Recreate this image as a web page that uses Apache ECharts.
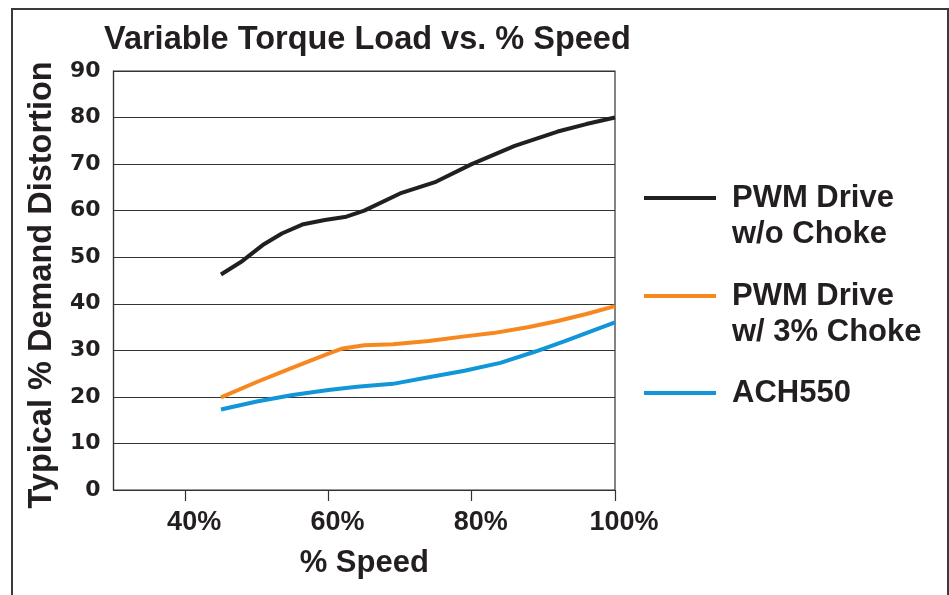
<!DOCTYPE html>
<html>
<head>
<meta charset="utf-8">
<script src="https://cdn.jsdelivr.net/npm/echarts@6/dist/echarts.min.js"></script>
<style>
html,body{margin:0;padding:0;background:#fff;}
#chart{width:949px;height:595px;}
</style>
</head>
<body>
<div id="chart"></div>
<script>
// ---- data ----
const seriesNames = ['PWM Drive\nw/o Choke', 'PWM Drive\nw/ 3% Choke', 'ACH550'];
const blackSpeed = [45, 48, 51, 53.5, 56.5, 59.5, 62.5, 65, 70, 75, 80, 86, 92, 96, 100];
const blackValues = [46.3, 49.2, 52.8, 55.1, 57.1, 58, 58.7, 60, 63.7, 66.2, 70, 73.9, 77, 78.6, 80];
const orangeSpeed = [45, 50, 55, 60, 62, 65, 69, 74, 79, 83, 88, 92, 96, 100];
const orangeValues = [19.9, 23.2, 26.3, 29.3, 30.4, 31.1, 31.3, 32, 33, 33.7, 35, 36.3, 37.8, 39.5];
const blueSpeed = [45, 50, 55, 60, 64, 69, 74, 79, 84, 89, 93, 97, 100];
const blueValues = [17.3, 19, 20.4, 21.5, 22.2, 22.8, 24.2, 25.6, 27.3, 29.8, 32, 34.3, 36];
const xTickValues = [40, 60, 80, 100];
const xTickLabels = ['40%', '60%', '80%', '100%'];

const pair = (xs, ys) => xs.map((x, i) => [x, ys[i]]);
const txt = '#231f20';
const bold = 'Liberation Sans, Arial, sans-serif';

const chart = echarts.init(document.getElementById('chart'), null, {renderer: 'canvas'});
const legendText = {
  fontFamily: bold, fontWeight: 'bold', fontSize: 31, lineHeight: 36, color: txt,
  padding: [0, 0, 0, 11],
  rich: {
    a: {fontFamily: bold, fontWeight: 'bold', fontSize: 31, lineHeight: 36, color: txt},
    s: {fontSize: 31, lineHeight: 36}
  }
};
const twoLine = name => '{s| }\n' + name.split('\n').map(l => '{a|' + l + '}').join('\n');
const legendBase = {
  orient: 'vertical', left: 644, padding: 0, icon: 'rect', itemWidth: 72, itemHeight: 4,
  selectedMode: false, textStyle: legendText
};
chart.setOption({
  animation: false,
  backgroundColor: '#fff',
  title: {
    text: 'Variable Torque Load vs. % Speed', left: 104, top: 24, padding: 0,
    textStyle: {fontFamily: bold, fontWeight: 'bold', fontSize: 32.5, color: txt}
  },
  legend: [
    Object.assign({}, legendBase, {top: 144, data: [seriesNames[0]], formatter: twoLine}),
    Object.assign({}, legendBase, {top: 242, data: [seriesNames[1]], formatter: twoLine}),
    Object.assign({}, legendBase, {top: 375, data: [seriesNames[2]]})
  ],
  graphic: [{
    type: 'polyline', silent: true,
    shape: {points: [[12, 620], [12, 9], [948, 9], [948, 620]]},
    style: {stroke: '#3a3a3a', lineWidth: 2, fill: null}
  }],
  grid: {left: 113.5, right: 334, top: 71, bottom: 105, show: true, borderColor: '#333', borderWidth: 1.2, containLabel: false},
  xAxis: {
    type: 'value', min: 30, max: 100,
    name: '% Speed', nameLocation: 'middle', nameGap: 58,
    nameTextStyle: {fontFamily: bold, fontWeight: 'bold', fontSize: 31, color: txt},
    axisLine: {show: true, lineStyle: {color: '#333', width: 1.2}},
    axisTick: {show: true, customValues: xTickValues, length: 11, lineStyle: {color: '#333', width: 1.2}},
    axisLabel: {
      customValues: xTickValues, margin: 19,
      formatter: v => xTickLabels[xTickValues.indexOf(v)] || '',
      fontFamily: bold, fontWeight: 'bold', fontSize: 27, color: txt, padding: [0, 0, 0, 18]
    },
    splitLine: {show: false}
  },
  yAxis: {
    type: 'value', min: 0, max: 90, interval: 10,
    name: 'Typical % Demand Distortion', nameLocation: 'middle', nameGap: 35,
    nameTextStyle: {fontFamily: bold, fontWeight: 'bold', fontSize: 32.5, color: txt, padding: [0, 9, 0, 0]},
    axisLine: {show: true, lineStyle: {color: '#333', width: 1.2}},
    axisTick: {show: false},
    axisLabel: {margin: 13, fontFamily: 'DejaVu Sans', fontWeight: 'bold', fontSize: 22, color: txt},
    splitLine: {show: true, lineStyle: {color: '#333', width: 1.2}}
  },
  series: [
    {name: seriesNames[0], type: 'line', data: pair(blackSpeed, blackValues), showSymbol: false,
     color: '#231f20', lineStyle: {width: 4, color: '#231f20'}},
    {name: seriesNames[1], type: 'line', data: pair(orangeSpeed, orangeValues), showSymbol: false,
     color: '#f7881f', lineStyle: {width: 4, color: '#f7881f'}},
    {name: seriesNames[2], type: 'line', data: pair(blueSpeed, blueValues), showSymbol: false,
     color: '#1296d8', lineStyle: {width: 4, color: '#1296d8'}}
  ]
});
</script>
</body>
</html>
